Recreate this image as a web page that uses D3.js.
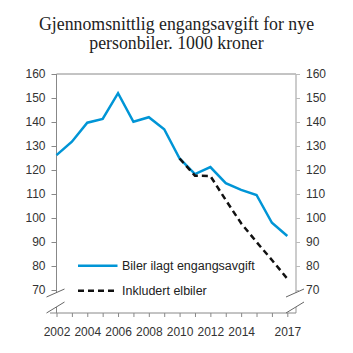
<!DOCTYPE html>
<html>
<head>
<meta charset="utf-8">
<script src="https://cdn.jsdelivr.net/npm/d3@7"></script>
<style>
  body { margin: 0; background: #fff; }
  .tick text { font-family: "Liberation Sans", Arial, sans-serif; font-size: 12px; fill: #333; }
</style>
</head>
<body>
<div id="chart-area"></div>
<script>
// Data
var years = [2002, 2003, 2004, 2005, 2006, 2007, 2008, 2009, 2010, 2011, 2012, 2013, 2014, 2015, 2016, 2017];
var ilagt = [126.2, 131.8, 139.7, 141.3, 152, 140.1, 142, 137, 124.8, 118.3, 121.2, 114.5, 111.7, 109.6, 98, 92.5];
var elbilYears = [2010, 2011, 2012, 2013, 2014, 2015, 2016, 2017];
var elbil = [124.8, 117.6, 117.5, 107.5, 97.8, 90, 82.5, 74.7];
var yTicks = [70, 80, 90, 100, 110, 120, 130, 140, 150, 160];
var xLabels = [2002, 2004, 2006, 2008, 2010, 2012, 2014, 2017];

var W = 353, H = 353;
var plotLeft = 56.5, plotRight = 296, plotTop = 74, base = 313;

var svg = d3.select("#chart-area")
  .append("svg")
    .attr("width", W)
    .attr("height", H);

// Title
var title = svg.append("text")
  .attr("text-anchor", "middle")
  .attr("font-family", "'Liberation Serif', 'Times New Roman', serif")
  .attr("font-size", "17.8px")
  .attr("fill", "#222");
title.append("tspan").attr("x", 176.5).attr("y", 30).text("Gjennomsnittlig engangsavgift for nye");
title.append("tspan").attr("x", 176.5).attr("y", 49).text("personbiler. 1000 kroner");

// Scales
var x = d3.scaleLinear().domain([2002, 2017]).range([plotLeft, 287.3]);
var y = d3.scaleLinear().domain([70, 160]).range([290, plotTop]);

// frame lines
svg.append("line")
  .attr("x1", plotLeft).attr("x2", plotRight).attr("y1", plotTop).attr("y2", plotTop)
  .attr("stroke", "#888").attr("stroke-width", 1);
svg.append("line")
  .attr("x1", plotLeft).attr("x2", plotLeft).attr("y1", plotTop).attr("y2", 293)
  .attr("stroke", "#888").attr("stroke-width", 1);
svg.append("line")
  .attr("x1", plotLeft).attr("x2", plotLeft).attr("y1", 307).attr("y2", base)
  .attr("stroke", "#888").attr("stroke-width", 1);
svg.append("line")
  .attr("x1", plotRight).attr("x2", plotRight).attr("y1", plotTop).attr("y2", 293)
  .attr("stroke", "#bbb").attr("stroke-width", 1.5);
svg.append("line")
  .attr("x1", plotRight).attr("x2", plotRight).attr("y1", 307).attr("y2", base)
  .attr("stroke", "#bbb").attr("stroke-width", 1.5);
svg.append("line")
  .attr("x1", 50).attr("x2", plotRight).attr("y1", base).attr("y2", base)
  .attr("stroke", "#888").attr("stroke-width", 1);

// axis break slashes
[plotLeft, plotRight].forEach(function (cx) {
  [[297, 289], [313, 302]].forEach(function (s) {
    svg.append("line")
      .attr("x1", cx - 10).attr("y1", s[0])
      .attr("x2", cx + 8).attr("y2", s[1])
      .attr("stroke", "#666").attr("stroke-width", 1);
  });
});

// Y axes
var yLeft = svg.append("g")
  .attr("transform", "translate(" + plotLeft + ",0)")
  .call(d3.axisLeft(y).tickValues(yTicks).tickSize(5).tickPadding(6));
var yRight = svg.append("g")
  .attr("transform", "translate(" + plotRight + ",0)")
  .call(d3.axisRight(y).tickValues(yTicks).tickSize(4).tickPadding(6));
yLeft.select(".domain").remove();
yRight.select(".domain").remove();
yLeft.selectAll(".tick line").attr("stroke", "#888");
yRight.selectAll(".tick line").attr("stroke", "#bbb");

// X axis
var xAxis = svg.append("g")
  .attr("transform", "translate(0," + base + ")")
  .call(d3.axisBottom(x).tickValues(years).tickSize(4).tickPadding(10)
    .tickFormat(function (d) { return xLabels.indexOf(d) >= 0 ? d : ""; }));
xAxis.select(".domain").remove();
xAxis.selectAll(".tick line").attr("stroke", "#888");
xAxis.selectAll(".tick text").attr("font-size", "12px");

// Lines
var line = d3.line()
  .x(function (d) { return x(d[0]); })
  .y(function (d) { return y(d[1]); });

svg.append("path")
  .datum(years.map(function (d, i) { return [d, ilagt[i]]; }))
  .attr("d", line)
  .attr("fill", "none")
  .attr("stroke", "#0095d6")
  .attr("stroke-width", 2.5);

// dashed series drawn on top of the blue one
svg.append("path")
  .datum(elbilYears.map(function (d, i) { return [d, elbil[i]]; }))
  .attr("d", line)
  .attr("fill", "none")
  .attr("stroke", "#111")
  .attr("stroke-width", 2.5)
  .attr("stroke-dasharray", "6,4");

// Legend
var legend = [
  { label: "Biler ilagt engangsavgift", color: "#0095d6", dash: null, y: 265.7 },
  { label: "Inkludert elbiler", color: "#111", dash: "6,4", y: 290.7 }
];
legend.forEach(function (l) {
  svg.append("line")
    .attr("x1", 78).attr("x2", 117.5).attr("y1", l.y).attr("y2", l.y)
    .attr("stroke", l.color).attr("stroke-width", 2.5)
    .attr("stroke-dasharray", l.dash);
  svg.append("text")
    .attr("x", 122).attr("y", l.y + 4.5)
    .attr("font-family", "'Liberation Sans', Arial, sans-serif")
    .attr("font-size", "12.5px")
    .attr("fill", "#222")
    .text(l.label);
});
</script>
</body>
</html>
